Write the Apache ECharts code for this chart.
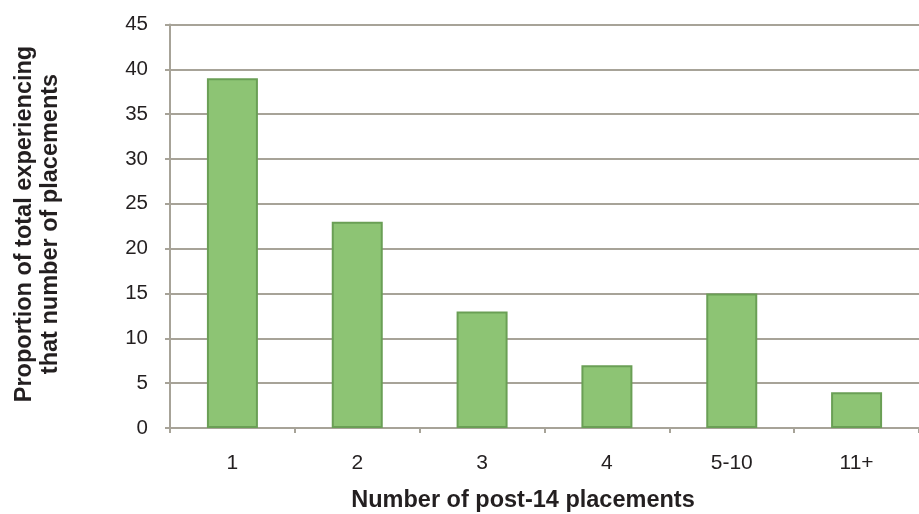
<!DOCTYPE html>
<html><head><meta charset="utf-8">
<script src="https://cdn.jsdelivr.net/npm/echarts@6/dist/echarts.min.js"></script>
<style>html,body{margin:0;padding:0;background:#fff}#c{width:919px;height:514px}</style>
</head><body><div id="c"></div>
<script>
const categories = ['1', '2', '3', '4', '5-10', '11+'];
const values = [39, 23, 13, 7, 15, 4];
const yTicks = { min: 0, max: 45, interval: 5 };
const xTitle = 'Number of post-14 placements';
const yTitle = 'Proportion of total experiencing\nthat number of placements';

const axisColor = '#a7a398';
const textColor = '#231f20';
const font = '"Liberation Sans", Arial, sans-serif';

const chart = echarts.init(document.getElementById('c'));
chart.setOption({
  animation: false,
  grid: { left: 170, right: -5, top: 24.5, bottom: 86, containLabel: false },
  xAxis: {
    type: 'category',
    data: categories,
    boundaryGap: true,
    axisLine: { show: true, lineStyle: { color: axisColor, width: 2 } },
    axisTick: { show: true, length: 5, alignWithLabel: false, lineStyle: { color: axisColor, width: 2 } },
    axisLabel: { color: textColor, fontSize: 21, fontFamily: font, margin: 25 },
    splitLine: { show: false }
  },
  yAxis: {
    type: 'value',
    min: yTicks.min, max: yTicks.max, interval: yTicks.interval,
    axisLine: { show: true, lineStyle: { color: axisColor, width: 2 } },
    axisTick: { show: true, length: 5, lineStyle: { color: axisColor, width: 2 } },
    axisLabel: { color: textColor, fontSize: 20.5, fontFamily: font, margin: 22 },
    splitLine: { show: true, lineStyle: { color: axisColor, width: 2 } }
  },
  series: [{
    type: 'bar',
    data: values,
    barWidth: 51,
    itemStyle: { color: '#8dc474', borderColor: '#6a9f55', borderWidth: 2 }
  }],
  graphic: [
    {
      type: 'text', x: 523, y: 501,
      style: { text: xTitle, fontSize: 23.5, fontWeight: 'bold', fontFamily: font, fill: textColor,
               align: 'center', verticalAlign: 'middle' }
    },
    {
      type: 'text', x: 38, y: 224, rotation: Math.PI / 2,
      style: { text: yTitle, fontSize: 23.5, fontWeight: 'bold', fontFamily: font, fill: textColor,
               align: 'center', verticalAlign: 'middle', lineHeight: 26 }
    }
  ]
});
</script></body></html>
